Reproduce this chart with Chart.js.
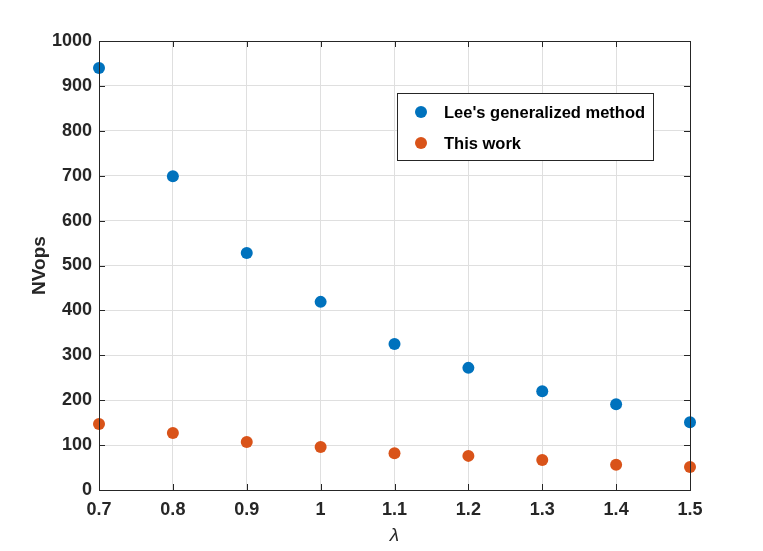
<!DOCTYPE html>
<html>
<head>
<meta charset="utf-8">
<script src="https://cdn.jsdelivr.net/npm/chart.js@4"></script>
<style>
  html, body { margin: 0; padding: 0; background: #fff; }
  #wrap { width: 763px; height: 551px; }
</style>
</head>
<body>
<div id="wrap"><canvas id="nvopsChart" width="763" height="551"></canvas></div>
<script>
// values
const lambdaValues = [0.7, 0.8, 0.9, 1.0, 1.1, 1.2, 1.3, 1.4, 1.5];
const leeValues = [940, 699, 528, 419, 325, 272, 220, 191, 151];
const thisWorkValues = [147, 127, 107, 96, 82, 76, 67, 56, 51];
const seriesLabels = ["Lee's generalized method", "This work"];
const seriesColors = ['#0072BD', '#D95319'];

const FONT = '"Liberation Sans", Arial, sans-serif';

const toPoints = (ys) => lambdaValues.map((x, i) => ({ x: x, y: ys[i] }));

// box around the plot, inward ticks and an in-plot legend, MATLAB style
const boxAndLegend = {
	id: 'boxAndLegend',
	afterDatasetsDraw(chart) {
		const { ctx, chartArea: a } = chart;
		const xs = chart.scales.x, ys = chart.scales.y;
		ctx.save();
		ctx.strokeStyle = '#262626';
		ctx.lineWidth = 1;
		ctx.strokeRect(a.left + 0.5, a.top + 0.5, a.right - a.left, a.bottom - a.top);

		// inward tick marks on all four sides
		ctx.beginPath();
		xs.ticks.forEach(t => {
			const px = Math.round(xs.getPixelForValue(t.value)) + 0.5;
			ctx.moveTo(px, a.bottom); ctx.lineTo(px, a.bottom - 6);
			ctx.moveTo(px, a.top); ctx.lineTo(px, a.top + 6);
		});
		ys.ticks.forEach(t => {
			const py = Math.round(ys.getPixelForValue(t.value)) + 0.5;
			ctx.moveTo(a.left, py); ctx.lineTo(a.left + 6, py);
			ctx.moveTo(a.right, py); ctx.lineTo(a.right - 6, py);
		});
		ctx.stroke();

		// legend box
		const lx = 397, ly = 93, lw = 256, lh = 67;
		ctx.fillStyle = '#fff';
		ctx.fillRect(lx, ly, lw, lh);
		ctx.strokeStyle = '#262626';
		ctx.strokeRect(lx + 0.5, ly + 0.5, lw, lh);
		ctx.font = 'bold 16.5px ' + FONT;
		ctx.textBaseline = 'middle';
		chart.data.datasets.forEach((ds, i) => {
			const cy = ly + 19 + i * 31;
			ctx.beginPath();
			ctx.arc(lx + 24, cy, 6, 0, Math.PI * 2);
			ctx.fillStyle = ds.backgroundColor;
			ctx.fill();
			ctx.fillStyle = '#000';
			ctx.fillText(ds.label, lx + 47, cy + 1);
		});
		ctx.restore();
	}
};

new Chart(document.getElementById('nvopsChart').getContext('2d'), {
	type: 'scatter',
	data: {
		datasets: [
			{
				label: seriesLabels[0],
				data: toPoints(leeValues),
				backgroundColor: seriesColors[0],
				borderColor: seriesColors[0],
				pointRadius: 6,
				borderWidth: 0,
				clip: false,
			},
			{
				label: seriesLabels[1],
				data: toPoints(thisWorkValues),
				backgroundColor: seriesColors[1],
				borderColor: seriesColors[1],
				pointRadius: 6,
				borderWidth: 0,
				clip: false,
			},
		],
	},
	options: {
		responsive: false,
		animation: false,
		layout: { padding: { top: 41, right: 73, left: 24, bottom: 0 } },
		plugins: {
			legend: { display: false },
			tooltip: { enabled: false },
		},
		scales: {
			x: {
				type: 'linear',
				min: 0.7,
				max: 1.5,
				afterFit: (s) => { s.height = 61; },
				afterBuildTicks: (s) => { s.ticks = lambdaValues.map(v => ({ value: v })); },
				ticks: {
					color: '#262626',
					font: { family: FONT, size: 18, weight: 'bold' },
					padding: 9,
					callback: (v) => String(Math.round(v * 10) / 10),
				},
				grid: { color: '#dfdfdf', drawTicks: false },
				border: { color: '#262626' },
				title: {
					display: true,
					text: 'λ',
					color: '#262626',
					font: { family: FONT, size: 19, style: 'italic' },
					padding: { top: 2 },
				},
			},
			y: {
				min: 0,
				max: 1000,
				afterFit: (s) => { s.width = 75; },
				ticks: {
					stepSize: 100,
					color: '#262626',
					font: { family: FONT, size: 18, weight: 'bold' },
					padding: 7,
					callback: (v) => String(v),
				},
				grid: { color: '#dfdfdf', drawTicks: false },
				border: { color: '#262626' },
				title: {
					display: true,
					text: 'NVops',
					color: '#262626',
					font: { family: FONT, size: 19, weight: 'bold' },
					padding: { bottom: 4 },
				},
			},
		},
	},
	plugins: [boxAndLegend],
});
</script>
</body>
</html>
